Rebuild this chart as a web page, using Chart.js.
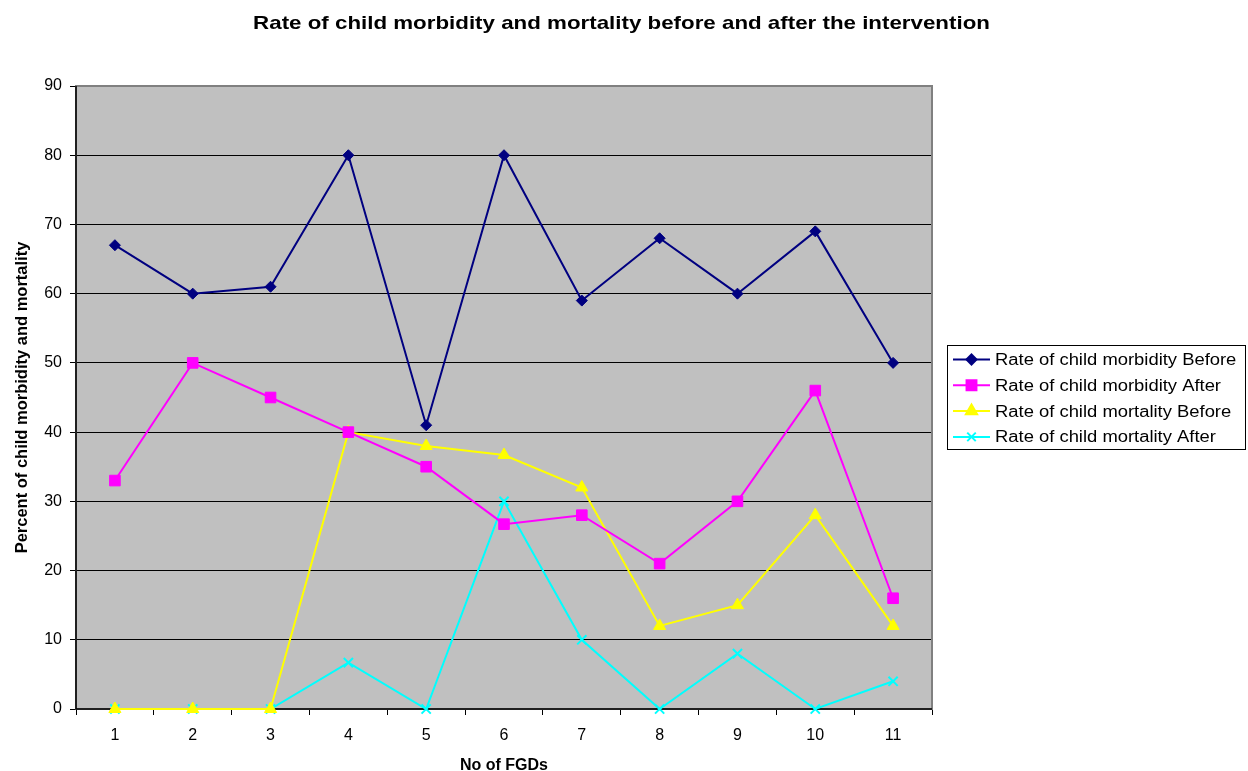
<!DOCTYPE html>
<html>
<head>
<meta charset="utf-8">
<script src="https://cdn.jsdelivr.net/npm/chart.js@4.4.1/dist/chart.umd.min.js"></script>
<style>
  html, body { margin: 0; padding: 0; background: #ffffff; }
  #wrap { width: 1248px; height: 771px; position: relative; }
</style>
</head>
<body>
<div id="wrap"><canvas id="c" width="1248" height="771"></canvas></div>
<script>
const categories = ['1', '2', '3', '4', '5', '6', '7', '8', '9', '10', '11'];
const morbidityBefore = [67, 60, 61, 80, 41, 80, 59, 68, 60, 69, 50];
const morbidityAfter = [33, 50, 45, 40, 35, 26.7, 28, 21, 30, 46, 16];
const mortalityBefore = [0, 0, 0, 40, 38, 36.7, 32, 12, 15, 28, 12];
const mortalityAfter = [0, 0, 0, 6.7, 0, 30, 10, 0, 8, 0, 4];
const seriesNames = [
  'Rate of child morbidity Before',
  'Rate of child morbidity After',
  'Rate of child mortality Before',
  'Rate of child mortality After'
];
const titleText = 'Rate of child morbidity and mortality before and after the intervention';
const xTitle = 'No of FGDs';
const yTitle = 'Percent of child morbidity and mortality';

const FONT = '"Liberation Sans", Arial, sans-serif';

const styles = [
  { color: '#000080', pointStyle: 'rectRot', radius: 5.5 },
  { color: '#FF00FF', pointStyle: 'rect', radius: 7.5 },
  { color: '#FFFF00', pointStyle: 'triangle', radius: 7 },
  { color: '#00FFFF', pointStyle: 'crossRot', radius: 6.5 }
];
const values = [morbidityBefore, morbidityAfter, mortalityBefore, mortalityAfter];

const datasets = values.map((v, i) => ({
  label: seriesNames[i],
  data: v,
  borderColor: styles[i].color,
  backgroundColor: styles[i].color,
  borderWidth: 2,
  pointStyle: styles[i].pointStyle,
  pointRadius: styles[i].radius,
  pointHoverRadius: styles[i].radius,
  pointBorderColor: styles[i].color,
  pointBackgroundColor: styles[i].color,
  pointBorderWidth: i === 3 ? 2 : 1,
  tension: 0,
  clip: false
}));

// grey plot area with a dark frame
const plotBackground = {
  id: 'plotBackground',
  beforeDraw(chart) {
    const { ctx, chartArea: a } = chart;
    ctx.save();
    ctx.fillStyle = '#C0C0C0';
    ctx.fillRect(a.left, a.top, a.right - a.left, a.bottom - a.top);
    ctx.restore();
  },
  beforeDatasetsDraw(chart) {
    const { ctx, chartArea: a } = chart;
    ctx.save();
    ctx.strokeStyle = '#808080';
    ctx.lineWidth = 2;
    ctx.strokeRect(a.left, a.top, a.right - a.left, a.bottom - a.top);
    ctx.strokeStyle = '#000';
    ctx.lineWidth = 1.5;
    ctx.beginPath();
    ctx.moveTo(a.left, a.top);
    ctx.lineTo(a.left, a.bottom);
    ctx.lineTo(a.right, a.bottom);
    ctx.stroke();
    ctx.restore();
  }
};

// slightly widened text, like the chart's original rendering
function wideText(ctx, text, x, y, sx) {
  ctx.save();
  ctx.translate(x, y);
  ctx.scale(sx, 1);
  ctx.fillText(text, 0, 0);
  ctx.restore();
}

// title and boxed legend on the right
const annotations = {
  id: 'annotations',
  afterDraw(chart) {
    const ctx = chart.ctx;
    ctx.save();
    ctx.fillStyle = '#000';
    ctx.font = 'bold 19px ' + FONT;
    ctx.textAlign = 'center';
    ctx.textBaseline = 'middle';
    wideText(ctx, titleText, 621.5, 24, 1.175);

    const bx = 947, by = 345, bw = 298, bh = 104;
    ctx.fillStyle = '#fff';
    ctx.fillRect(bx, by, bw, bh);
    ctx.strokeStyle = '#000';
    ctx.lineWidth = 1;
    ctx.strokeRect(bx + 0.5, by + 0.5, bw, bh);
    ctx.font = '16px ' + FONT;
    ctx.textAlign = 'left';
    for (let i = 0; i < seriesNames.length; i++) {
      const y = 359.5 + i * 25.8;
      const s = styles[i];
      ctx.strokeStyle = s.color;
      ctx.lineWidth = 2;
      ctx.beginPath();
      ctx.moveTo(953, y);
      ctx.lineTo(990, y);
      ctx.stroke();
      ctx.fillStyle = s.color;
      ctx.strokeStyle = s.color;
      Chart.helpers.drawPoint(ctx, {
        pointStyle: s.pointStyle,
        radius: s.radius - 0.5,
        borderWidth: i === 3 ? 2 : 1,
        rotation: 0
      }, 971.5, y);
      ctx.fillStyle = '#000';
      wideText(ctx, seriesNames[i], 995, y + 1, 1.15);
    }
    ctx.restore();
  }
};

new Chart(document.getElementById('c'), {
  type: 'line',
  data: { labels: categories, datasets },
  plugins: [plotBackground, annotations],
  options: {
    responsive: false,
    animation: false,
    devicePixelRatio: 1,
    layout: { padding: { top: 86, right: 316, left: 6, bottom: 0 } },
    plugins: {
      legend: { display: false },
      title: { display: false },
      tooltip: { enabled: false }
    },
    scales: {
      x: {
        offset: true,
        grid: {
          offset: true,
          drawOnChartArea: false,
          drawTicks: true,
          tickLength: 6,
          color: '#000',
          lineWidth: 1
        },
        border: { display: false },
        ticks: { color: '#000', font: { family: FONT, size: 16 }, padding: 11, maxRotation: 0 },
        title: { display: true, text: xTitle, color: '#000', font: { family: FONT, size: 16, weight: 'bold', lineHeight: 1 }, padding: { top: 4, bottom: -3 } },
        afterFit(scale) { scale.height = 62; }
      },
      y: {
        min: 0,
        max: 90,
        ticks: { stepSize: 10, color: '#000', font: { family: FONT, size: 16 }, padding: 8 },
        grid: { color: '#000', lineWidth: 1, tickLength: 6, drawTicks: true },
        border: { display: false },
        title: { display: true, text: yTitle, color: '#000', font: { family: FONT, size: 16.5, weight: 'bold', lineHeight: 1 }, padding: { top: 8, bottom: 0 } },
        afterFit(scale) { scale.width = 70; }
      }
    }
  }
});
</script>
</body>
</html>
